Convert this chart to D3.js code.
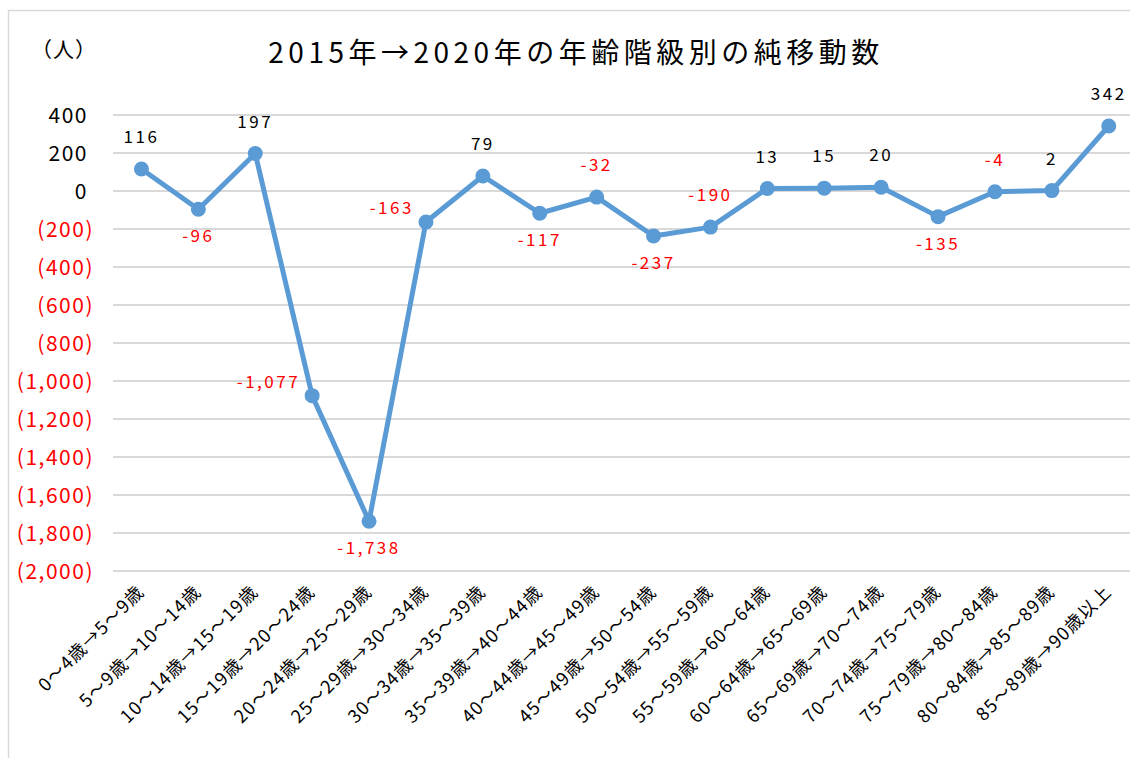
<!DOCTYPE html>
<html>
<head>
<meta charset="utf-8">
<script src="https://cdn.jsdelivr.net/npm/d3@7"></script>
<style>
  body { margin: 0; background: #fff; }
  svg { display: block; font-family: "Noto Sans CJK JP", "Noto Sans", sans-serif; }
</style>
</head>
<body>
<svg width="1130" height="758"></svg>
<script>
const categories = [
  "0～4歳→5～9歳", "5～9歳→10～14歳", "10～14歳→15～19歳", "15～19歳→20～24歳",
  "20～24歳→25～29歳", "25～29歳→30～34歳", "30～34歳→35～39歳", "35～39歳→40～44歳",
  "40～44歳→45～49歳", "45～49歳→50～54歳", "50～54歳→55～59歳", "55～59歳→60～64歳",
  "60～64歳→65～69歳", "65～69歳→70～74歳", "70～74歳→75～79歳", "75～79歳→80～84歳",
  "80～84歳→85～89歳", "85～89歳→90歳以上"
];
const netMigration = [116, -96, 197, -1077, -1738, -163, 79, -117, -32, -237, -190, 13, 15, 20, -135, -4, 2, 342];
const yTicks = [400, 200, 0, -200, -400, -600, -800, -1000, -1200, -1400, -1600, -1800, -2000];
// where each data label sits relative to its point
const labelPos = ["t", "b", "t", "l", "b", "l", "t", "b", "t", "b", "t", "t", "t", "t", "b", "t", "t", "t"];

const svg = d3.select("svg");
const margin = {top: 115, left: 113},
  bandW = 56.9,
  width = bandW * categories.length,
  height = 456;

svg.append("rect")
  .attr("x", 8.5).attr("y", 10.5)
  .attr("width", 1200).attr("height", 800)
  .attr("fill", "#fff").attr("stroke", "#d9d9d9").attr("stroke-width", 1.5);

const g = svg.append("g").attr("transform", "translate(" + margin.left + "," + margin.top + ")");

const x = d3.scaleBand().domain(categories).range([0, width]);
const y = d3.scaleLinear().domain([-2000, 400]).range([height, 0]);

const fmt = d3.format(",");
const red = "#ff0000";

// gridlines
g.selectAll(".grid").data(yTicks).enter().append("line")
  .attr("x1", 0).attr("x2", width)
  .attr("y1", d => y(d)).attr("y2", d => y(d))
  .attr("stroke", "#d9d9d9").attr("stroke-width", 2);

// y tick labels (accounting-style negatives)
g.selectAll(".ytick").data(yTicks).enter().append("text")
  .attr("x", d => d < 0 ? -19 : -25)
  .attr("y", d => y(d))
  .attr("dy", "0.36em")
  .attr("text-anchor", "end")
  .attr("font-size", 21)
  .attr("letter-spacing", 1.5)
  .attr("fill", d => d < 0 ? red : "#000")
  .text(d => d < 0 ? "(" + fmt(-d) + ")" : fmt(d));

// x axis labels rotated
g.selectAll(".xtick").data(categories).enter().append("text")
  .attr("transform", d => "translate(" + (x(d) + x.bandwidth() / 2 + 4) + "," + (height + 22) + ") rotate(-45)")
  .attr("text-anchor", "end")
  .attr("font-size", 18)
  .attr("letter-spacing", 1.2)
  .attr("fill", "#000")
  .text(d => d);

const pts = categories.map((c, i) => ({c: c, v: netMigration[i], p: labelPos[i]}));

const line = d3.line()
  .x(d => x(d.c) + x.bandwidth() / 2)
  .y(d => y(d.v));

g.append("path")
  .datum(pts)
  .attr("fill", "none")
  .attr("stroke", "#5b9bd5")
  .attr("stroke-width", 5)
  .attr("stroke-linejoin", "round")
  .attr("d", line);

g.selectAll(".dot").data(pts).enter().append("circle")
  .attr("cx", d => x(d.c) + x.bandwidth() / 2)
  .attr("cy", d => y(d.v))
  .attr("r", 7.5)
  .attr("fill", "#5b9bd5");

g.selectAll(".lbl").data(pts).enter().append("text")
  .attr("x", d => x(d.c) + x.bandwidth() / 2 + (d.p === "l" ? -12 : 0))
  .attr("y", d => y(d.v) + (d.p === "t" ? -26 : d.p === "b" ? 33 : -8))
  .attr("text-anchor", d => d.p === "l" ? "end" : "middle")
  .attr("font-size", 17)
  .attr("letter-spacing", 2.5)
  .attr("fill", d => d.v < 0 ? red : "#000")
  .text(d => fmt(d.v).replace("−", "-"));

// unit label and title
svg.append("text")
  .attr("x", 64).attr("y", 57)
  .attr("text-anchor", "middle")
  .attr("font-size", 21)
  .attr("letter-spacing", 1)
  .text("（人）");

svg.append("text")
  .attr("x", 576).attr("y", 63)
  .attr("text-anchor", "middle")
  .attr("font-size", 28)
  .attr("letter-spacing", 4.5)
  .attr("fill", "#000")
  .text("2015年→2020年の年齢階級別の純移動数");
</script>
</body>
</html>
